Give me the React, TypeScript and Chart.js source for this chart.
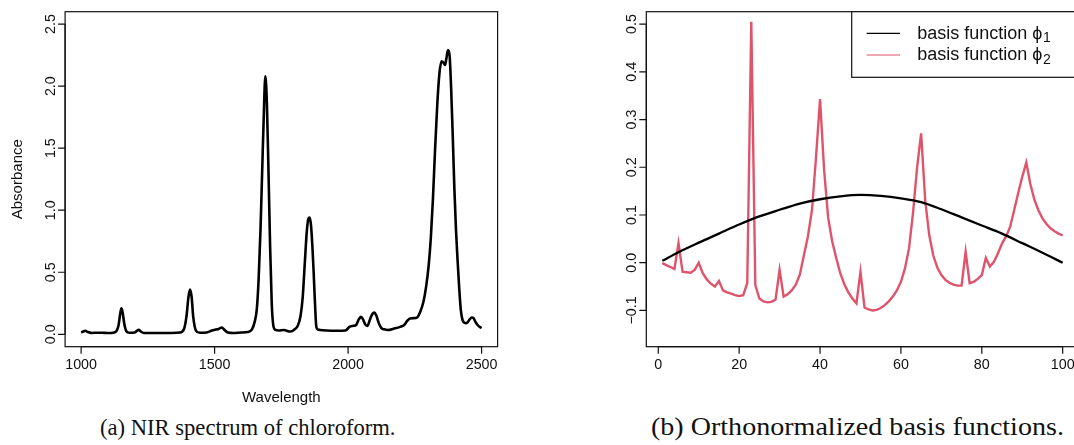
import React, { useEffect, useRef } from "react";
import { Chart, registerables } from "chart.js";

Chart.register(...registerables);

// ---------- (a) NIR spectrum of chloroform ----------
const wavelengths = [
  1000, 1008, 1016, 1025, 1040, 1060, 1080, 1100, 1120, 1132, 1140, 1146, 1151, 1156, 1162, 1170, 1180, 1200, 1210, 1216,
  1224, 1235, 1260, 1300, 1340, 1370, 1385, 1395, 1402, 1408, 1414, 1420, 1430, 1445, 1470, 1490, 1505, 1515, 1527, 1537,
  1550, 1570, 1600, 1625, 1640, 1650, 1658, 1665, 1672, 1678, 1684, 1690, 1696, 1702, 1708, 1714, 1720, 1728, 1740, 1760,
  1775, 1785, 1800, 1812, 1822, 1830, 1838, 1845, 1851, 1856, 1861, 1866, 1871, 1876, 1881, 1886, 1895, 1920, 1960, 1990,
  2005, 2020, 2030, 2040, 2048, 2056, 2064, 2072, 2082, 2090, 2098, 2106, 2115, 2125, 2135, 2150, 2170, 2195, 2210, 2222,
  2232, 2245, 2258, 2270, 2282, 2292, 2302, 2310, 2318, 2326, 2334, 2342, 2350, 2357, 2363, 2368, 2374, 2380, 2386, 2392,
  2398, 2404, 2410, 2416, 2422, 2428, 2434, 2440, 2447, 2455, 2463, 2470, 2477, 2485, 2492, 2500,
];
const absorbance = [
  0.015, 0.022, 0.028, 0.018, 0.011, 0.013, 0.012, 0.011, 0.013, 0.025, 0.07, 0.16, 0.21, 0.17, 0.08, 0.022, 0.012, 0.014, 0.03, 0.036,
  0.022, 0.011, 0.01, 0.01, 0.011, 0.014, 0.04, 0.15, 0.3, 0.36, 0.3, 0.14, 0.03, 0.012, 0.014, 0.03, 0.038, 0.043, 0.055, 0.035,
  0.014, 0.01, 0.014, 0.018, 0.04, 0.1, 0.2, 0.45, 0.85, 1.3, 1.75, 2.08, 1.85, 1.3, 0.7, 0.25, 0.07, 0.035, 0.03, 0.035,
  0.025, 0.022, 0.04, 0.07, 0.15, 0.3, 0.58, 0.82, 0.93, 0.94, 0.88, 0.72, 0.5, 0.25, 0.06, 0.04, 0.035, 0.03, 0.028, 0.03,
  0.06, 0.068, 0.075, 0.12, 0.14, 0.12, 0.08, 0.068, 0.12, 0.16, 0.175, 0.15, 0.09, 0.05, 0.04, 0.035, 0.045, 0.06, 0.075, 0.11,
  0.128, 0.13, 0.135, 0.18, 0.26, 0.38, 0.56, 0.78, 1.1, 1.5, 1.85, 2.1, 2.2, 2.19, 2.17, 2.22, 2.29, 2.25, 1.98, 1.6,
  1.18, 0.85, 0.6, 0.38, 0.2, 0.12, 0.095, 0.09, 0.095, 0.12, 0.135, 0.13, 0.1, 0.075, 0.06, 0.05,
];
const nirXTicks = [1000, 1500, 2000, 2500];
const nirXTickLabels = ["1000", "1500", "2000", "2500"];
const nirYTicks = [0, 0.5, 1, 1.5, 2, 2.5];
const nirYTickLabels = ["0.0", "0.5", "1.0", "1.5", "2.0", "2.5"];

// ---------- (b) Orthonormalized basis functions ----------
const phi1Index = [1, 5, 10, 15, 20, 25, 30, 35, 40, 45, 50, 55, 60, 65, 70, 75, 80, 85, 90, 95, 100];
const phi1Values = [
  0.004, 0.022, 0.042, 0.061, 0.08, 0.097, 0.111, 0.124, 0.133, 0.139, 0.142, 0.14, 0.135, 0.127, 0.112, 0.095, 0.078,
  0.061, 0.041, 0.021, 0.0,
];
const phi2Values = [
  -0.001, -0.005, -0.009, -0.013, 0.041, -0.019, -0.02, -0.021, -0.015, 0.0,
  -0.022, -0.035, -0.044, -0.05, -0.038, -0.058, -0.062, -0.065, -0.068, -0.07,
  -0.068, -0.043, 0.505, -0.047, -0.075, -0.081, -0.083, -0.082, -0.077, -0.015,
  -0.071, -0.066, -0.058, -0.046, -0.025, 0.015, 0.055, 0.11, 0.22, 0.343,
  0.195, 0.095, 0.045, 0.01, -0.022, -0.045, -0.062, -0.075, -0.085, -0.019,
  -0.094, -0.098, -0.1, -0.099, -0.095, -0.089, -0.081, -0.071, -0.058, -0.04,
  -0.012, 0.03, 0.105, 0.2, 0.271, 0.131, 0.058, 0.015, -0.01, -0.026,
  -0.036, -0.042, -0.046, -0.048, -0.048, 0.023, -0.043, -0.04, -0.034, -0.026,
  0.01, -0.008, 0.002, 0.02, 0.04, 0.055, 0.075, 0.11, 0.146, 0.18,
  0.21, 0.165, 0.132, 0.11, 0.093, 0.081, 0.072, 0.066, 0.061, 0.057,
];
const phi2Index = phi2Values.map((_, i) => i + 1);
const basisXTicks = [0, 20, 40, 60, 80, 100];
const basisXTickLabels = ["0", "20", "40", "60", "80", "100"];
const basisYTicks = [-0.1, 0, 0.1, 0.2, 0.3, 0.4, 0.5];
const basisYTickLabels = ["\u22120.1", "0.0", "0.1", "0.2", "0.3", "0.4", "0.5"];
const legendLabels = ["basis function \u03D5", "basis function \u03D5"];
const legendSubs = ["1", "2"];

const captionA = "(a) NIR spectrum of chloroform.";
const captionB = "(b) Orthonormalized basis functions.";

const SANS = '"Liberation Sans", Arial, Helvetica, "DejaVu Sans", sans-serif';
const RED = "#DF536B";

type AxisCfg = {
  xTicks: number[];
  xLabels: string[];
  yTicks: number[];
  yLabels: string[];
  xTitle?: string;
  yTitle?: string;
};

function rAxesPlugin(cfg: AxisCfg) {
  return {
    id: "rAxes",
    afterDraw(chart: any) {
      const ctx: CanvasRenderingContext2D = chart.ctx;
      const { left, right, top, bottom } = chart.chartArea;
      const xs = chart.scales.x;
      const ys = chart.scales.y;
      ctx.save();
      ctx.strokeStyle = "#111";
      ctx.fillStyle = "#111";
      ctx.lineWidth = 1.2;
      ctx.strokeRect(left, top, right - left, bottom - top);
      const x0 = xs.getPixelForValue(cfg.xTicks[0]);
      const x1 = xs.getPixelForValue(cfg.xTicks[cfg.xTicks.length - 1]);
      ctx.beginPath();
      ctx.moveTo(x0, bottom);
      ctx.lineTo(x1, bottom);
      cfg.xTicks.forEach((v) => {
        const px = xs.getPixelForValue(v);
        ctx.moveTo(px, bottom);
        ctx.lineTo(px, bottom + 7);
      });
      const y0 = ys.getPixelForValue(cfg.yTicks[0]);
      const y1 = ys.getPixelForValue(cfg.yTicks[cfg.yTicks.length - 1]);
      ctx.moveTo(left, y0);
      ctx.lineTo(left, y1);
      cfg.yTicks.forEach((v) => {
        const py = ys.getPixelForValue(v);
        ctx.moveTo(left, py);
        ctx.lineTo(left - 7, py);
      });
      ctx.stroke();
      ctx.font = `14.3px ${SANS}`;
      ctx.textAlign = "center";
      ctx.textBaseline = "alphabetic";
      cfg.xTicks.forEach((v, i) => {
        ctx.fillText(cfg.xLabels[i], xs.getPixelForValue(v), bottom + 22.7);
      });
      cfg.yTicks.forEach((v, i) => {
        ctx.save();
        ctx.translate(left - 10.5, ys.getPixelForValue(v));
        ctx.rotate(-Math.PI / 2);
        ctx.fillText(cfg.yLabels[i], 0, 0);
        ctx.restore();
      });
      ctx.font = `15px ${SANS}`;
      if (cfg.xTitle) ctx.fillText(cfg.xTitle, (left + right) / 2, bottom + 55);
      if (cfg.yTitle) {
        ctx.save();
        ctx.translate(left - 43, (top + bottom) / 2);
        ctx.rotate(-Math.PI / 2);
        ctx.fillText(cfg.yTitle, 0, 0);
        ctx.restore();
      }
      ctx.restore();
    },
  };
}

const legendPlugin = {
  id: "rLegend",
  afterDraw(chart: any) {
    const ctx: CanvasRenderingContext2D = chart.ctx;
    const { right, top } = chart.chartArea;
    const boxL = right - 227;
    ctx.save();
    ctx.fillStyle = "#fff";
    ctx.fillRect(boxL, top, 227, 65.6);
    ctx.strokeStyle = "#111";
    ctx.lineWidth = 1.2;
    ctx.strokeRect(boxL, top, 227, 65.6);
    const colors = ["#000", RED];
    legendLabels.forEach((lab, i) => {
      const ly = top + 21.6 + i * 21.7;
      ctx.strokeStyle = colors[i];
      ctx.lineWidth = 1.2;
      ctx.beginPath();
      ctx.moveTo(boxL + 15, ly);
      ctx.lineTo(boxL + 48.3, ly);
      ctx.stroke();
      ctx.fillStyle = "#111";
      ctx.font = `18px ${SANS}`;
      ctx.textAlign = "left";
      ctx.textBaseline = "alphabetic";
      const tx = boxL + 65.6;
      ctx.fillText(lab, tx, ly + 5.3);
      const w = ctx.measureText(lab).width;
      ctx.font = `14px ${SANS}`;
      ctx.fillText(legendSubs[i], tx + w + 0.5, ly + 8.6);
    });
    ctx.restore();
  },
};

function useLineChart(ref: React.RefObject<HTMLCanvasElement | null>, build: () => any) {
  useEffect(() => {
    if (!ref.current) return;
    const chart = new Chart(ref.current, build());
    return () => chart.destroy();
  }, []);
}

export default function App() {
  const leftRef = useRef<HTMLCanvasElement>(null);
  const rightRef = useRef<HTMLCanvasElement>(null);

  useLineChart(leftRef, () => ({
    type: "line",
    data: {
      datasets: [
        {
          data: wavelengths.map((w, i) => ({ x: w, y: absorbance[i] })),
          borderColor: "#000",
          borderWidth: 2.6,
          pointRadius: 0,
          cubicInterpolationMode: "monotone",
          fill: false,
        },
      ],
    },
    options: {
      animation: false,
      responsive: false,
      maintainAspectRatio: false,
      events: [],
      layout: { padding: { left: 65.1, right: 537 - 497.6, top: 11.7, bottom: 410 - 346.7 } },
      plugins: { legend: { display: false }, tooltip: { enabled: false } },
      scales: {
        x: { type: "linear", min: 940, max: 2560, display: false },
        y: { type: "linear", min: -0.1, max: 2.6, display: false },
      },
    },
    plugins: [
      rAxesPlugin({
        xTicks: nirXTicks,
        xLabels: nirXTickLabels,
        yTicks: nirYTicks,
        yLabels: nirYTickLabels,
        xTitle: "Wavelength",
        yTitle: "Absorbance",
      }),
    ],
  }));

  useLineChart(rightRef, () => ({
    type: "line",
    data: {
      datasets: [
        {
          data: phi1Index.map((x, i) => ({ x, y: phi1Values[i] })),
          borderColor: "#000",
          borderWidth: 2.3,
          pointRadius: 0,
          cubicInterpolationMode: "monotone",
          fill: false,
        },
        {
          data: phi2Index.map((x, i) => ({ x, y: phi2Values[i] })),
          borderColor: RED,
          borderWidth: 2.4,
          pointRadius: 0,
          tension: 0,
          fill: false,
        },
      ],
    },
    options: {
      animation: false,
      responsive: false,
      maintainAspectRatio: false,
      events: [],
      layout: { padding: { left: 646.3 - 537, right: 545 - 541.7, top: 11.7, bottom: 410 - 346.7 } },
      plugins: { legend: { display: false }, tooltip: { enabled: false } },
      scales: {
        x: { type: "linear", min: -2.96, max: 103.96, display: false },
        y: { type: "linear", min: -0.176, max: 0.526, display: false },
      },
    },
    plugins: [
      rAxesPlugin({
        xTicks: basisXTicks,
        xLabels: basisXTickLabels,
        yTicks: basisYTicks,
        yLabels: basisYTickLabels,
      }),
      legendPlugin,
    ],
  }));

  const captionStyle: React.CSSProperties = {
    position: "absolute",
    top: 417,
    fontFamily: '"Liberation Serif", "Times New Roman", serif',
    fontSize: 22.6,
    lineHeight: "22px",
    color: "#111",
    whiteSpace: "nowrap",
    transformOrigin: "0 0",
  };

  return (
    <div
      style={{
        position: "fixed",
        left: 0,
        top: 0,
        width: 1074,
        height: 445,
        overflow: "hidden",
        background: "#fff",
      }}
    >
      <canvas
        ref={leftRef}
        width={537}
        height={410}
        style={{ position: "absolute", left: 0, top: 0, width: 537, height: 410 }}
      />
      <canvas
        ref={rightRef}
        width={545}
        height={410}
        style={{ position: "absolute", left: 537, top: 0, width: 545, height: 410 }}
      />
      <div style={{ ...captionStyle, left: 100 }}>{captionA}</div>
      <div style={{ ...captionStyle, left: 651, top: 416, fontSize: 24.5, transform: "scaleX(1.145)" }}>{captionB}</div>
    </div>
  );
}
